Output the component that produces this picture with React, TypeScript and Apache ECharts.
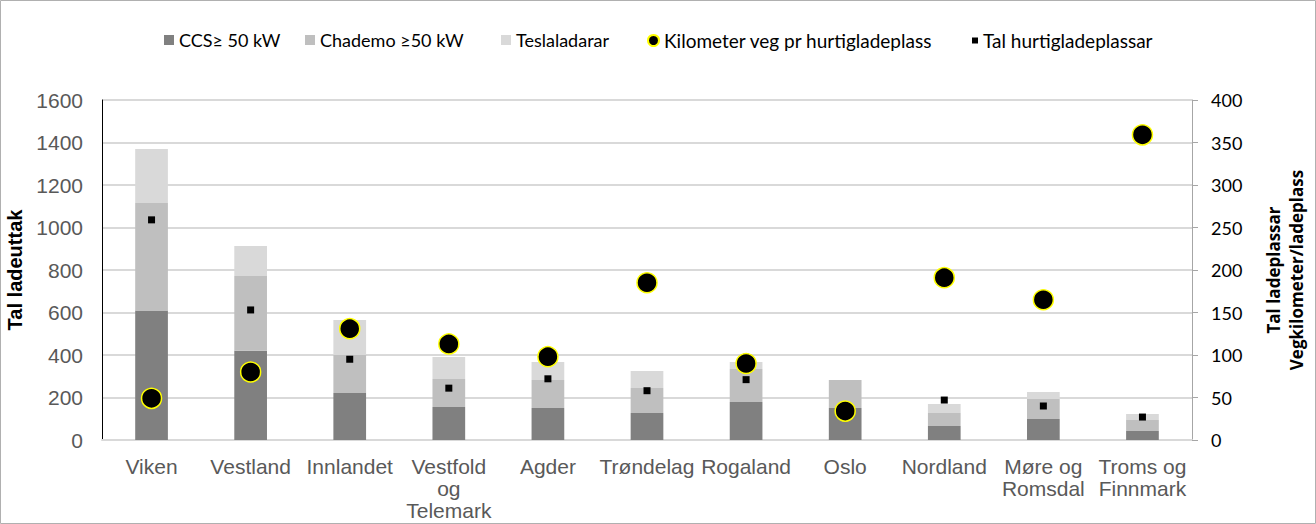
import React, { useEffect, useRef } from "react";
import * as echarts from "echarts";

const categories = ["Viken", "Vestland", "Innlandet", "Vestfold\nog\nTelemark", "Agder", "Trøndelag", "Rogaland", "Oslo", "Nordland", "Møre og\nRomsdal", "Troms og\nFinnmark"];
const ccs = [610, 420, 221, 155, 151, 127, 179, 151, 66, 99, 42];
const chademo = [505, 352, 179, 132, 131, 118, 155, 131, 61, 94, 52];
const tesla = [255, 141, 165, 104, 85, 80, 33, 0, 42, 33, 28];
const kmPerPlass = [49, 80, 131, 113, 98, 185, 90, 34, 191, 165, 359];
const talPlassar = [259, 153, 95, 61, 72, 58, 71, 35, 47, 40, 27];

const seriesNames = ["CCS≥ 50 kW", "Chademo ≥50 kW", "Teslaladarar", "Kilometer veg pr hurtigladeplass", "Tal hurtigladeplassar"];
const leftTicks = { min: 0, max: 1600, interval: 200 };
const rightTicks = { min: 0, max: 400, interval: 50 };

export default function App() {
  const ref = useRef<HTMLDivElement>(null);
  useEffect(() => {
    const chart = echarts.init(ref.current!, null, { renderer: "svg" });
    const cal = "Lato, 'Open Sans', sans-serif";
    const arial = "'Liberation Sans', Arial, sans-serif";
    const legendLefts = [164, 305, 501, 647, 972];
    const legendIcons = ["rect", "rect", "rect", "circle", "rect"];
    const legends = seriesNames.map((n, i) => ({
      top: 31,
      left: legendLefts[i],
      padding: 0,
      itemWidth: i === 4 ? 6 : i === 3 ? 11 : 10,
      itemHeight: i === 4 ? 6 : i === 3 ? 12 : 10,
      textStyle: { fontFamily: cal, fontSize: i < 3 ? 18 : 19, color: "#000" },
      data: [{ name: n, icon: legendIcons[i] }],
    }));
    chart.setOption({
      animation: false,
      backgroundColor: "#fff",
      graphic: [
        { type: "rect", shape: { x: 0.5, y: 0.5, width: 1315, height: 523 }, style: { fill: "none", stroke: "#b0b0b0", lineWidth: 1 }, silent: true },
      ],
      legend: legends,
      grid: { left: 102, right: 124, top: 100, bottom: 84, outerBoundsMode: "none", containLabel: false },
      xAxis: {
        type: "category",
        data: categories,
        axisTick: { show: false },
        axisLine: { lineStyle: { color: "#d9d9d9", width: 2 } },
        axisLabel: { color: "#595959", fontFamily: arial, fontSize: 21, margin: 15, interval: 0, lineHeight: 22 },
      },
      yAxis: [
        {
          type: "value",
          ...leftTicks,
          name: "Tal ladeuttak",
          nameLocation: "middle",
          nameGap: 72,
          nameTextStyle: { fontFamily: arial, fontSize: 20, fontWeight: "bold", color: "#000" },
          axisLine: { show: true, lineStyle: { color: "#000", width: 1 } },
          axisTick: { show: false },
          axisLabel: { color: "#595959", fontFamily: arial, fontSize: 21, margin: 19, formatter: (v: number) => String(v) },
          splitLine: { lineStyle: { color: "#d9d9d9", width: 2 } },
        },
        {
          type: "value",
          ...rightTicks,
          name: "Tal ladeplassar\nVegkilometer/ladeplass",
          nameLocation: "middle",
          nameGap: 70,
          nameRotate: 90,
          nameTextStyle: { fontFamily: "'Open Sans', sans-serif", fontSize: 17, fontWeight: "bold", color: "#000", lineHeight: 23 },
          axisLine: { show: true, lineStyle: { color: "#a6a6a6", width: 1 } },
          axisTick: { show: true, length: 6, lineStyle: { color: "#a6a6a6" } },
          axisLabel: { color: "#000", fontFamily: cal, fontSize: 18, margin: 19 },
          splitLine: { show: false },
        },
      ],
      series: [
        { name: seriesNames[0], type: "bar", stack: "s", data: ccs, barWidth: "33%", itemStyle: { color: "#808080" } },
        { name: seriesNames[1], type: "bar", stack: "s", data: chademo, itemStyle: { color: "#bfbfbf" } },
        { name: seriesNames[2], type: "bar", stack: "s", data: tesla, itemStyle: { color: "#d9d9d9" } },
        {
          name: seriesNames[3], type: "scatter", yAxisIndex: 1, data: kmPerPlass,
          symbol: "circle", symbolSize: 20, z: 5,
          itemStyle: { color: "#000", borderColor: "#ffff00", borderWidth: 1.5, opacity: 1 },
        },
        {
          name: seriesNames[4], type: "scatter", yAxisIndex: 1, data: talPlassar,
          symbol: "rect", symbolSize: 7, z: 4,
          itemStyle: { color: "#000", opacity: 1 },
        },
      ],
    });
    return () => chart.dispose();
  }, []);
  return <div ref={ref} style={{ position: "fixed", left: 0, top: 0, width: 1316, height: 524 }} />;
}
